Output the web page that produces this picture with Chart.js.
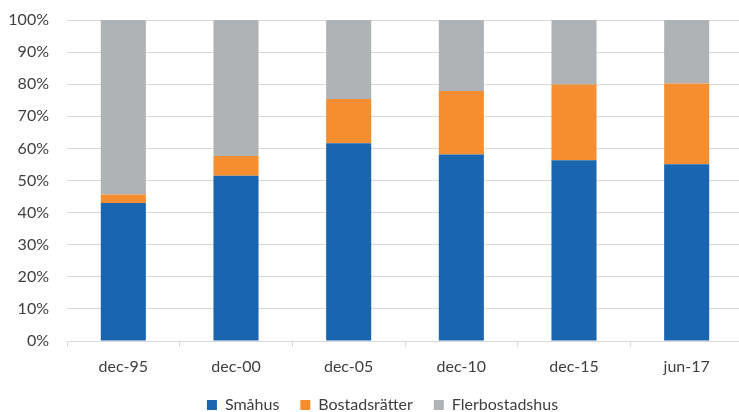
<!DOCTYPE html>
<html>
<head>
<meta charset="utf-8">
<script src="https://cdn.jsdelivr.net/npm/chart.js@4"></script>
<style>
html,body{margin:0;padding:0;overflow:hidden;background:#fff;}
#wrap{width:745px;height:412px;}
</style>
</head>
<body>
<div id="wrap"><canvas id="c" width="745" height="412"></canvas></div>
<script>
const categories = ['dec-95','dec-00','dec-05','dec-10','dec-15','jun-17'];
const smahus = [43.0, 51.5, 61.6, 58.1, 56.3, 55.1];
const bostadsratter = [2.6, 6.1, 13.8, 19.8, 23.6, 25.1];
const flerbostadshus = [54.4, 42.4, 24.6, 22.1, 20.1, 19.8];
const seriesNames = ['Småhus','Bostadsrätter','Flerbostadshus'];
const yTicks = [0,10,20,30,40,50,60,70,80,90,100];

const FONT = 'Lato, "Open Sans", sans-serif';
const TXT = '#404040';
const GRID = '#d9d9d9';

const legendShift = {
  id: 'legendShift',
  afterLayout(chart) {
    if (chart.legend) { chart.legend.left += 11; chart.legend.right += 11; }
  }
};

new Chart(document.getElementById('c'), {
  type: 'bar',
  data: {
    labels: categories,
    datasets: [
      {label: seriesNames[0], data: smahus, backgroundColor: '#1965b0'},
      {label: seriesNames[1], data: bostadsratter, backgroundColor: '#f58e31'},
      {label: seriesNames[2], data: flerbostadshus, backgroundColor: '#afb3b5'}
    ]
  },
  plugins: [legendShift],
  options: {
    responsive: false,
    animation: false,
    devicePixelRatio: 1,
    layout: {padding: {left: 0, right: 2, top: 20, bottom: -11}},
    datasets: {bar: {barPercentage: 0.4, categoryPercentage: 1.0, borderWidth: 0}},
    scales: {
      x: {
        stacked: true,
        offset: true,
        grid: {offset: true, drawOnChartArea: false, drawTicks: true, tickLength: 6, color: GRID},
        border: {display: true, color: GRID},
        ticks: {font: {family: FONT, size: 16}, color: TXT, padding: 10, maxRotation: 0},
        afterFit: s => { s.height = 35; s.paddingLeft = 0; s.paddingRight = 0; }
      },
      y: {
        stacked: true,
        min: 0, max: 100,
        afterBuildTicks: s => { s.ticks = yTicks.map(v => ({value: v})); },
        grid: {color: GRID, drawTicks: false},
        border: {display: false},
        ticks: {font: {family: FONT, size: 16}, color: TXT, padding: 18, callback: v => v + '%'},
        afterFit: s => { s.width = 67; s.paddingTop = 0; s.paddingBottom = 0; }
      }
    },
    plugins: {
      legend: {
        position: 'bottom',
        labels: {font: {family: FONT, size: 16}, color: TXT, boxWidth: 10, boxHeight: 10, padding: 21}
      },
      tooltip: {enabled: false}
    }
  }
});
</script>
</body>
</html>
